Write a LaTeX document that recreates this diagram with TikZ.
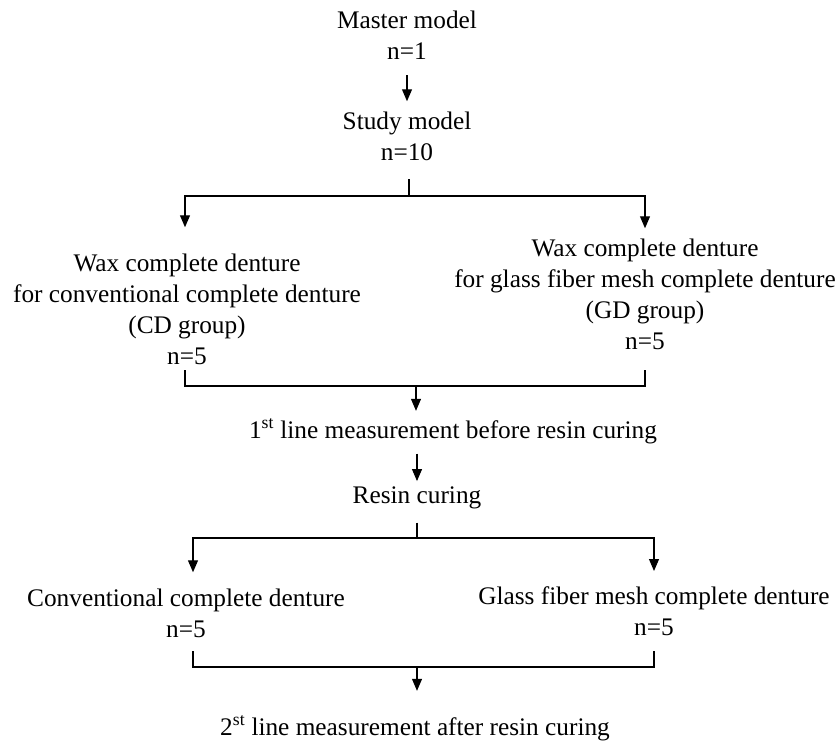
\documentclass[tikz,border=0pt]{standalone}
\usepackage{fontspec}
\setmainfont{Liberation Serif}
\usetikzlibrary{arrows.meta}
\tikzset{txt/.style = {inner sep=0pt, align=center, anchor=base, font=\fontsize{25.3}{31}\selectfont},
         conn/.style= {line width=1.1pt},
         arr/.style = {line width=1.1pt, -{Triangle[length=12pt,width=10pt]}}}
\begin{document}
\begin{tikzpicture}[x=1pt,y=-1pt]
    \useasboundingbox (0,0) rectangle (837,740);
    % base = baseline of the last line
    \node[txt](master)at(407,59){Master model\\n=1};
    \node[txt](study)at(407,160){Study model\\n=10};
    \node[txt](waxcd)at(187,364){Wax complete denture\\for conventional complete denture\\(CD group)\\n=5};
    \node[txt](waxgd)at(645,349){Wax complete denture\\for glass fiber mesh complete denture\\(GD group)\\n=5};
    \node[txt](meas1)at(453,438){1\textsuperscript{st} line measurement before resin curing};
    \node[txt](resin)at(417,503){Resin curing};
    \node[txt](conv)at(186,637){Conventional complete denture\\n=5};
    \node[txt](glass)at(654,635){Glass fiber mesh complete denture\\n=5};
    \node[txt](meas2)at(415,735){2\textsuperscript{st} line measurement after resin curing};
    \coordinate(sp1)at(409,196);
    \coordinate(mg1)at(416,386);
    \coordinate(sp2)at(417,538);
    \coordinate(mg2)at(417,667);
    \draw[arr,shorten <=16pt,shorten >=10pt](master.south)--(study.north);
    \draw[conn,shorten <=19pt](sp1|-study.south)--(sp1);
    \draw[arr,shorten >=26pt](sp1)-|([xshift=-2pt]waxcd.north);
    \draw[arr,shorten >=10pt](sp1)-|(waxgd.north);
    \draw[conn]([xshift=-2pt,yshift=-6pt]waxcd.south)|-(mg1)-|([yshift=-21pt]waxgd.south);
    \draw[arr,shorten >=8pt](mg1)--(mg1|-meas1.north);
    \draw[arr,shorten <=10pt,shorten >=5pt](resin.north|-meas1.south)--(resin.north);
    \draw[conn,shorten <=14pt](sp2|-resin.south)--(sp2);
    \draw[arr,shorten >=16pt](sp2)-|([xshift=7pt]conv.north);
    \draw[arr,shorten >=15pt](sp2)-|(glass.north);
    \draw[conn]([xshift=7pt,yshift=-14pt]conv.south)|-(mg2)-|([yshift=-16pt]glass.south);
    \draw[arr,shorten >=25pt](mg2)--(mg2|-meas2.north);
\end{tikzpicture}
\end{document}
